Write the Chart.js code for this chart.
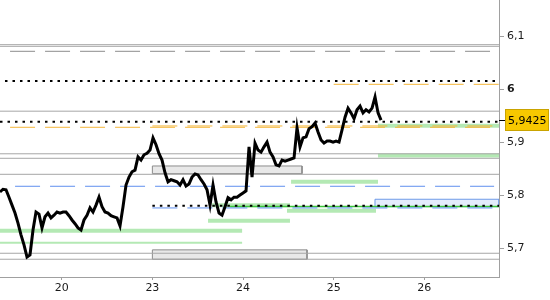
<!DOCTYPE html>
<html>
<head>
<meta charset="utf-8">
<script src="https://cdn.jsdelivr.net/npm/chart.js@4.4.0/dist/chart.umd.min.js"></script>
<style>
    html, body { margin: 0; padding: 0; background: #fff; }
    #wrap { width: 550px; height: 300px; }
</style>
</head>
<body>
<div id="wrap"><canvas id="chart" width="550" height="300"></canvas></div>
<script>
// x axis: trading days (1 = the 20th, 2 = the 23rd, ...)
const dayTicks = [1, 2, 3, 4, 5];
const dayLabels = ['20', '23', '24', '25', '26'];
const priceTicks = [5.7, 5.8, 5.9, 6.0, 6.1];

const xMin = 0.319, xMax = 5.824;
const yMin = 5.6464, yMax = 6.1691;

// intraday prices, one sample every priceStep day
const priceStart = 0.319;
const priceStep = 0.0331;
const prices = [
    5.807, 5.812, 5.811, 5.797, 5.782, 5.767, 5.748, 5.726, 5.707, 5.684,
    5.688, 5.735, 5.769, 5.765, 5.739, 5.760, 5.767, 5.758, 5.763, 5.769,
    5.767, 5.769, 5.769, 5.762, 5.754, 5.747, 5.739, 5.735, 5.754, 5.763,
    5.777, 5.769, 5.782, 5.797, 5.779, 5.769, 5.767, 5.762, 5.760, 5.758,
    5.743, 5.779, 5.820, 5.835, 5.845, 5.848, 5.873, 5.867, 5.877, 5.880,
    5.886, 5.909, 5.896, 5.879, 5.867, 5.843, 5.826, 5.830, 5.828, 5.826,
    5.820, 5.830, 5.818, 5.822, 5.835, 5.841, 5.839, 5.830, 5.822, 5.811,
    5.782, 5.820, 5.788, 5.767, 5.763, 5.779, 5.796, 5.792, 5.797, 5.797,
    5.801, 5.805, 5.809, 5.892, 5.835, 5.899, 5.886, 5.882, 5.892, 5.901,
    5.882, 5.873, 5.858, 5.856, 5.867, 5.865, 5.867, 5.869, 5.871, 5.928,
    5.892, 5.909, 5.911, 5.926, 5.930, 5.937, 5.920, 5.905, 5.899, 5.903,
    5.903, 5.901, 5.903, 5.901, 5.924, 5.948, 5.965, 5.956, 5.945, 5.962,
    5.969, 5.956, 5.962, 5.958, 5.965, 5.986, 5.956, 5.9425
];
const lastPrice = 5.9425;

// levels: [price, from day, to day]
const greyLines = [
    [6.0848, xMin, xMax], [6.0817, xMin, xMax], [5.9593, xMin, xMax], [5.8789, xMin, xMax],
    [5.8704, xMin, xMax], [5.8402, xMin, xMax], [5.6912, xMin, xMax], [5.6799, xMin, xMax]
];
const greyDashed = [[6.0723, 0.43, 5.725]];
const dottedLines = [[6.0163, 0.374, 5.80], [5.9395, xMin, xMax], [5.781, 2.0, xMax]];
const orangeDashed = [[6.0100, 4.0, xMax], [5.9314, 2.0, xMax], [5.9289, 0.43, xMax]];
const blueDashed = [[5.8176, 0.485, 5.77], [5.7767, 2.0, xMax]];
const greenLines = [[5.7795, 2.857, xMax]];
const greenBands = [
    [5.9319, 4.489, xMax], [5.8755, 4.489, xMax], [5.8263, 3.53, 4.489], [5.7817, 2.658, 3.518],
    [5.7714, 3.485, 4.467], [5.7525, 2.614, 3.518], [5.7336, xMin, 2.99]
];
const greenThinBands = [[5.7112, xMin, 2.99]];
// boxes: [top, bottom, from day, to day]
const greyBoxes = [[5.8559, 5.8414, 2.0, 3.651], [5.6976, 5.6799, 2.0, 3.706]];
const blueBoxes = [[5.7931, 5.7791, 4.456, xMax]];

const FONT = 'DejaVu Sans';

function segment(level, from, to, style) {
    return Object.assign({
        data: [{ x: from, y: level }, { x: to, y: level }],
        pointRadius: 0,
        borderWidth: 1,
        fill: false,
        tension: 0
    }, style);
}

function boxSets(b, border, fillColor, order) {
    const [top, bottom, from, to] = b;
    return [
        {
            data: [{ x: from, y: top }, { x: to, y: top }, { x: to, y: bottom }, { x: from, y: bottom }, { x: from, y: top }],
            borderColor: border, borderWidth: 1, pointRadius: 0, fill: false, tension: 0, order: order
        },
        {
            data: [{ x: from, y: top }, { x: to, y: top }],
            borderWidth: 0, pointRadius: 0, fill: { value: bottom },
            backgroundColor: fillColor, order: order + 1
        }
    ];
}

const datasets = [];

datasets.push({
    data: prices.map((p, k) => ({ x: priceStart + k * priceStep, y: p })),
    borderColor: '#000',
    borderWidth: 3,
    pointRadius: 0,
    tension: 0,
    fill: false,
    order: 0
});

dottedLines.forEach(l => datasets.push(segment(l[0], l[1], l[2], {
    borderColor: '#000', borderWidth: 2, borderDash: [2.5, 5], order: 1
})));
orangeDashed.forEach(l => datasets.push(segment(l[0], l[1], l[2], {
    borderColor: '#f5b639', borderDash: [25, 10], order: 2
})));
blueDashed.forEach(l => datasets.push(segment(l[0], l[1], l[2], {
    borderColor: '#5f8fef', borderDash: [25, 10], order: 2
})));
greyDashed.forEach(l => datasets.push(segment(l[0], l[1], l[2], {
    borderColor: '#8c8c8c', borderDash: [25, 10], order: 2
})));
greenLines.forEach(l => datasets.push(segment(l[0], l[1], l[2], {
    borderColor: '#3cc83c', borderWidth: 1.5, order: 3
})));
greyLines.forEach(l => datasets.push(segment(l[0], l[1], l[2], {
    borderColor: '#a6a6a6', order: 4
})));
greenBands.forEach(l => datasets.push(segment(l[0], l[1], l[2], {
    borderColor: '#b4e9b4', borderWidth: 4, order: 5
})));
greenThinBands.forEach(l => datasets.push(segment(l[0], l[1], l[2], {
    borderColor: '#b4e9b4', borderWidth: 2, order: 5
})));
greyBoxes.forEach(b => boxSets(b, '#8c8c8c', '#e8e8e8', 6).forEach(d => datasets.push(d)));
blueBoxes.forEach(b => boxSets(b, '#6f9ae8', '#e4ecfc', 6).forEach(d => datasets.push(d)));

// yellow tag with the last price on the right axis
const lastPriceTag = {
    id: 'lastPriceTag',
    afterDraw(chart) {
        const { ctx, chartArea, scales } = chart;
        const y = Math.round(scales.y.getPixelForValue(lastPrice)) + 0.5;
        ctx.save();
        ctx.strokeStyle = '#000';
        ctx.lineWidth = 1;
        ctx.beginPath();
        ctx.moveTo(chartArea.right, y);
        ctx.lineTo(chartArea.right + 6, y);
        ctx.stroke();
        ctx.fillStyle = '#f7c800';
        ctx.strokeStyle = '#c9a300';
        ctx.fillRect(505.5, y - 11, 43, 21);
        ctx.strokeRect(505.5, y - 11, 43, 21);
        ctx.fillStyle = '#000';
        ctx.font = '11px "' + FONT + '"';
        ctx.textBaseline = 'middle';
        ctx.textAlign = 'left';
        ctx.fillText(lastPrice.toFixed(4).replace('.', ','), 508, y + 1);
        ctx.restore();
    }
};

new Chart(document.getElementById('chart'), {
    type: 'line',
    data: { datasets: datasets },
    plugins: [lastPriceTag],
    options: {
        responsive: false,
        animation: false,
        layout: { padding: 0 },
        plugins: {
            legend: { display: false },
            tooltip: { enabled: false }
        },
        scales: {
            x: {
                type: 'linear',
                min: xMin,
                max: xMax,
                grid: { display: true, drawOnChartArea: false, drawTicks: true, tickLength: 3, color: '#a0a0a0' },
                border: { display: true, color: '#a0a0a0' },
                afterBuildTicks: scale => { scale.ticks = dayTicks.map(v => ({ value: v })); },
                afterFit: scale => { scale.height = 23; scale.paddingLeft = 0; scale.paddingRight = 0; },
                ticks: {
                    autoSkip: false,
                    maxRotation: 0,
                    padding: 2,
                    color: '#1a1a1a',
                    font: { family: FONT, size: 11 },
                    callback: v => dayLabels[dayTicks.indexOf(v)]
                }
            },
            y: {
                type: 'linear',
                position: 'right',
                min: yMin,
                max: yMax,
                grid: { display: true, drawOnChartArea: false, drawTicks: true, tickLength: 5, color: '#a0a0a0' },
                border: { display: true, color: '#a0a0a0' },
                afterBuildTicks: scale => { scale.ticks = priceTicks.map(v => ({ value: v })); },
                afterFit: scale => { scale.width = 51; scale.paddingTop = 0; scale.paddingBottom = 0; },
                ticks: {
                    padding: 3,
                    color: '#1a1a1a',
                    font: ctx => ({
                        family: FONT,
                        size: 11,
                        weight: ctx.tick && Math.abs(ctx.tick.value - 6) < 1e-9 ? 'bold' : 'normal'
                    }),
                    callback: v => String(Number(v.toFixed(1))).replace('.', ',')
                }
            }
        }
    }
});
</script>
</body>
</html>
